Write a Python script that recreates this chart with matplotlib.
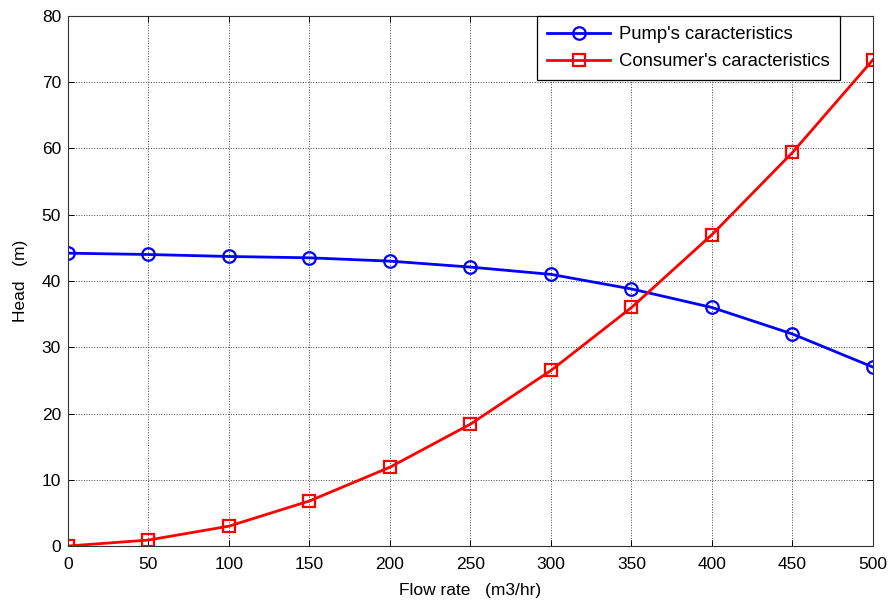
import numpy as np
from matplotlib import pyplot as plt

plt.rcParams['font.family'] = ['Liberation Sans', 'DejaVu Sans']

""" Data read from the reference """
flow = [0, 50, 100, 150, 200, 250, 300, 350, 400, 450, 500]
pump_head = [44.2, 44.0, 43.7, 43.5, 43.0, 42.1, 41.0, 38.8, 36.0, 32.0, 27.0]
consumer_head = [0.0, 0.9, 3.0, 6.8, 11.9, 18.4, 26.5, 36.0, 47.0, 59.4, 73.4]
xticks = [0, 50, 100, 150, 200, 250, 300, 350, 400, 450, 500]
yticks = [0, 10, 20, 30, 40, 50, 60, 70, 80]

fig = plt.figure(figsize=(8.92, 6.03), dpi=100)
ax = fig.add_axes([0.0762, 0.0945, 0.9025, 0.879])

ax.plot(flow, pump_head, color='blue', linewidth=2, marker='o', markersize=9,
        markerfacecolor='none', markeredgewidth=1.6, label="Pump's caracteristics")
ax.plot(flow, consumer_head, color='red', linewidth=2, marker='s', markersize=9,
        markerfacecolor='none', markeredgewidth=1.6, label="Consumer's caracteristics")

ax.set_xlim(0, 500)
ax.set_ylim(0, 80)
ax.set_xticks(xticks)
ax.set_yticks(yticks)
ax.tick_params(direction='in', top=True, right=True, labelsize=12.5,
               length=4, width=0.7)
ax.tick_params(axis='x', pad=8)
ax.tick_params(axis='y', pad=5)
ax.grid(True, color='#444444', linestyle=':', linewidth=0.7)
for s in ax.spines.values():
    s.set_linewidth(0.8)
    s.set_color('#333333')

ax.set_xlabel('Flow rate   (m3/hr)', fontsize=12.5, labelpad=8)
ax.set_ylabel('Head   (m)', fontsize=12.5, labelpad=10)

leg = ax.legend(loc='upper right', bbox_to_anchor=(0.9595, 1.0), fontsize=13.3,
                fancybox=False, framealpha=1, edgecolor='black', borderaxespad=0,
                handlelength=3.4, handletextpad=0.5, borderpad=0.55,
                labelspacing=0.55)
leg.get_frame().set_linewidth(0.9)

plt.savefig('out.png', dpi=100)
